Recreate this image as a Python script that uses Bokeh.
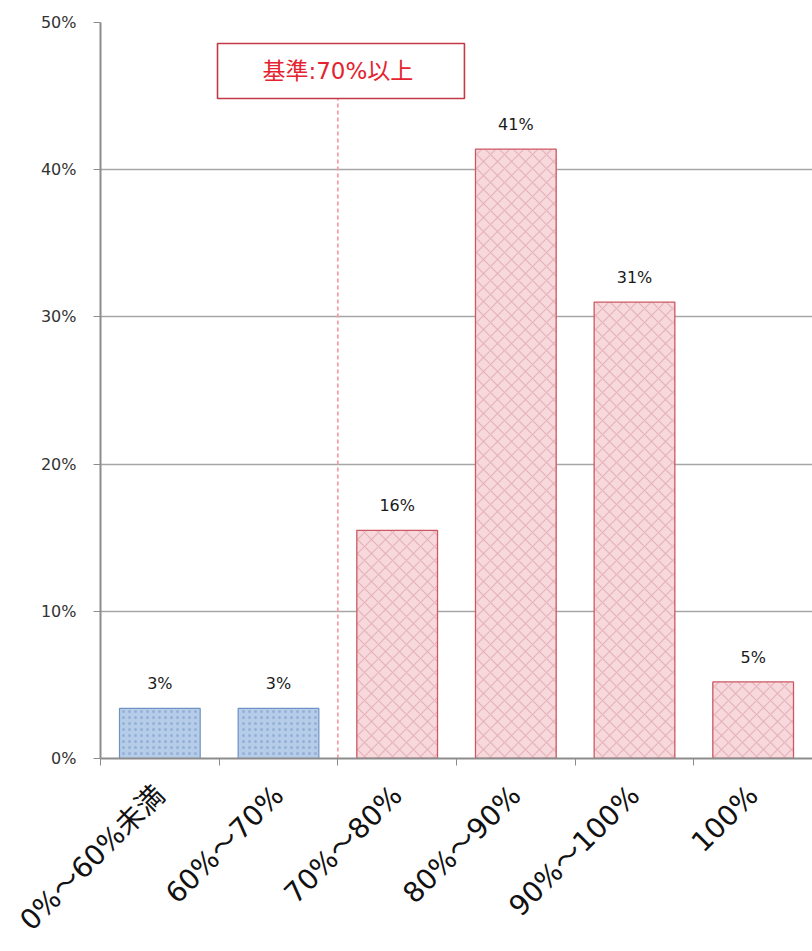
import math
from bokeh.plotting import figure
from bokeh.models import (Range1d, FixedTicker, BoxAnnotation, Label, ColumnDataSource)
from bokeh.core.properties import value
from bokeh.embed import file_html
from bokeh.resources import INLINE

# ---- data ----
categories = ["0%～60%未満", "60%～70%", "70%～80%", "80%～90%", "90%～100%", "100%"]
shares = [0.034, 0.034, 0.155, 0.414, 0.310, 0.052]
share_labels = ["3%", "3%", "16%", "41%", "31%", "5%"]
meets_standard = [False, False, True, True, True, True]
y_ticks = [0.0, 0.1, 0.2, 0.3, 0.4, 0.5]
y_tick_labels = ["0%", "10%", "20%", "30%", "40%", "50%"]
threshold_label = "基準:70%以上"
threshold_index = 2  # boundary between 60%～70% and 70%～80%

W, H = 812, 951
p = figure(width=W, height=H, output_backend="svg", toolbar_location=None,
           x_range=Range1d(0, len(categories)), y_range=Range1d(0, 0.5),
           min_border_left=100, min_border_right=0, min_border_top=22, min_border_bottom=193)
p.outline_line_color = None
p.background_fill_color = "white"
p.border_fill_color = "white"

centers = [i + 0.5 for i in range(len(categories))]

blue = dict(x=[c for c, m in zip(centers, meets_standard) if not m],
            top=[s for s, m in zip(shares, meets_standard) if not m])
red = dict(x=[c for c, m in zip(centers, meets_standard) if m],
           top=[s for s, m in zip(shares, meets_standard) if m])

p.vbar(x="x", top="top", width=0.68, source=ColumnDataSource(blue),
       fill_color="#b6cdea", line_color="#6f92c4", line_width=1.2,
       hatch_pattern="dot", hatch_color="#7e9dc9", hatch_scale=6, hatch_alpha=0.6)
p.vbar(x="x", top="top", width=0.68, source=ColumnDataSource(red),
       fill_color="#f7d8dc", line_color="#cd5862", line_width=1.3,
       hatch_pattern="diagonal_cross", hatch_color="#d99aa2", hatch_scale=14, hatch_alpha=0.6,
       hatch_weight=1.2)

# value labels
p.text(x=centers, y=shares, text=share_labels, text_align="center", text_baseline="bottom",
       y_offset=-15, text_font=value("DejaVu Sans"), text_font_size="16px", text_color="#1a1a1a")

# threshold line and box
p.segment(x0=[threshold_index], y0=[0], x1=[threshold_index], y1=[0.448],
          line_color="#f2a0a8", line_width=1.8, line_dash="4 3")
p.add_layout(BoxAnnotation(left=0.986, right=3.067, bottom=0.4484, top=0.4857,
                           fill_color="white", fill_alpha=1, line_color="#c23a48",
                           line_alpha=1, line_width=1.6))
p.add_layout(Label(x=threshold_index, y=0.4670, text=threshold_label, text_align="center",
                   text_baseline="middle", text_color="#e42330",
                   text_font="DejaVu Sans, Noto Sans CJK JP", text_font_size="23px"))

# axes
p.xgrid.grid_line_color = None
p.ygrid.grid_line_color = "#a6a6a6"
p.ygrid.grid_line_width = 1.3
p.ygrid.ticker = FixedTicker(ticks=y_ticks)

p.yaxis.ticker = FixedTicker(ticks=y_ticks)
p.yaxis.major_label_overrides = {t: l for t, l in zip(y_ticks, y_tick_labels)}
p.yaxis.axis_line_color = "#8c8c8c"
p.yaxis.axis_line_width = 2
p.yaxis.major_tick_line_color = "#8c8c8c"
p.yaxis.major_tick_out = 7
p.yaxis.major_tick_in = 0
p.yaxis.minor_tick_line_color = None
p.yaxis.major_label_text_font = "DejaVu Sans"
p.yaxis.major_label_text_font_size = "16px"
p.yaxis.major_label_text_color = "#333333"
p.yaxis.major_label_standoff = 17

p.xaxis.ticker = FixedTicker(ticks=centers, minor_ticks=list(range(len(categories) + 1)))
p.xaxis.major_label_overrides = {c: l for c, l in zip(centers, categories)}
p.xaxis.major_label_orientation = math.pi / 4
p.xaxis.axis_line_color = "#8c8c8c"
p.xaxis.axis_line_width = 2
p.xaxis.major_tick_line_color = None
p.xaxis.minor_tick_line_color = "#8c8c8c"
p.xaxis.minor_tick_out = 7
p.xaxis.minor_tick_in = 0
p.xaxis.major_label_text_font = "DejaVu Sans, Noto Sans CJK JP"
p.xaxis.major_label_text_font_size = "28px"
p.xaxis.major_label_text_color = "#111111"
p.xaxis.major_label_standoff = 25

open("out.html", "w").write(file_html(p, INLINE))
